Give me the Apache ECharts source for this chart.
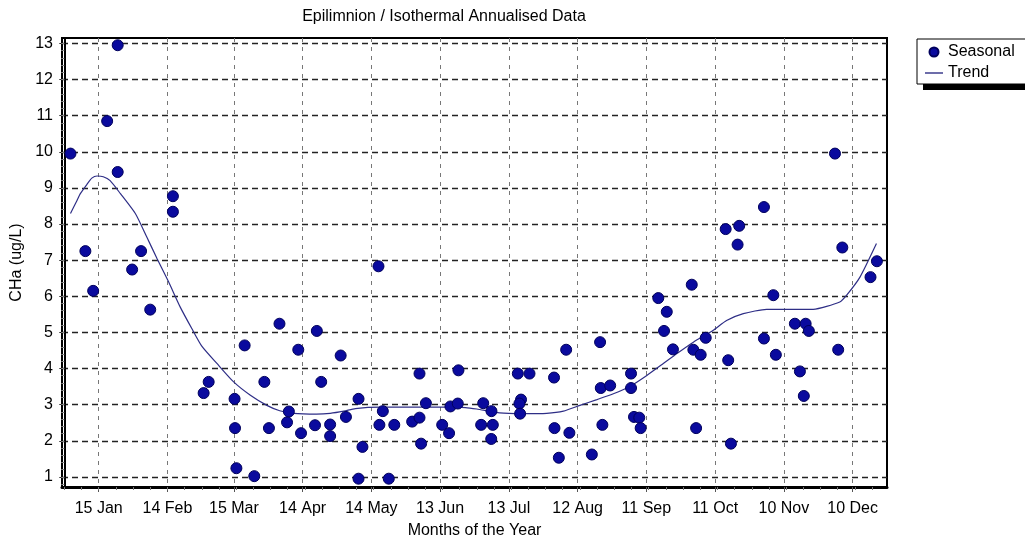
<!DOCTYPE html>
<html>
<head>
<meta charset="utf-8">
<title>Epilimnion / Isothermal Annualised Data</title>
<script src="https://cdn.jsdelivr.net/npm/echarts@6.0.0/dist/echarts.min.js"></script>
<style>
  html, body { margin: 0; padding: 0; background: #ffffff; }
  #chart { width: 1025px; height: 540px; }
</style>
</head>
<body>
<div id="chart"></div>
<script>
// Day-of-year positions of the month labels on the time axis
const monthTickDays = [15, 45, 74, 104, 134, 164, 194, 224, 254, 284, 314, 344];
const monthTickLabels = ['15 Jan', '14 Feb', '15 Mar', '14 Apr', '14 May', '13 Jun',
                         '13 Jul', '12 Aug', '11 Sep', '11 Oct', '10 Nov', '10 Dec'];
// Chlorophyll-a axis ticks (ug/L)
const chlaTicks = [1, 2, 3, 4, 5, 6, 7, 8, 9, 10, 11, 12, 13];

// Seasonal samples: [day of year, CHa ug/L]
const seasonalPoints = [
  [2.7, 9.95], [9.2, 7.25], [12.6, 6.15], [18.7, 10.85], [23.3, 12.95], [23.3, 9.44],
  [29.6, 6.74], [33.5, 7.25], [37.5, 5.63], [47.4, 8.77], [47.4, 8.34],
  [60.8, 3.32], [63.0, 3.63], [74.3, 3.16], [74.5, 2.35], [75.1, 1.24], [78.7, 4.64],
  [82.9, 1.02], [87.3, 3.63], [89.3, 2.35], [93.9, 5.24], [98.0, 2.81], [97.2, 2.51],
  [102.1, 4.52], [103.3, 2.21], [109.4, 2.43], [110.2, 5.04], [112.1, 3.63],
  [116.0, 2.45], [116.0, 2.13], [120.6, 4.36], [122.9, 2.66],
  [128.4, 3.16], [128.4, 0.95], [130.1, 1.83], [137.1, 6.83], [137.5, 2.44],
  [139.0, 2.82], [141.6, 0.95], [144.0, 2.44], [151.8, 2.53], [155.0, 2.64],
  [155.0, 3.86], [155.7, 1.92], [157.8, 3.04], [164.9, 2.44], [167.9, 2.21],
  [168.5, 2.95], [171.7, 3.03], [172.0, 3.95], [181.9, 2.44], [182.8, 3.04],
  [186.4, 2.82], [187.0, 2.44], [186.3, 2.05], [197.9, 3.86], [203.0, 3.86],
  [199.3, 3.14], [198.6, 3.03], [198.9, 2.75], [213.7, 3.75], [213.9, 2.35],
  [215.8, 1.53], [219.0, 4.52], [220.4, 2.22], [230.2, 1.62], [233.8, 4.73],
  [234.1, 3.46], [234.8, 2.44], [238.2, 3.53], [247.3, 3.86], [247.3, 3.46],
  [248.6, 2.66], [250.9, 2.64], [251.5, 2.35], [259.2, 5.95], [262.9, 5.57],
  [261.7, 5.04], [265.6, 4.53], [273.8, 6.32], [274.5, 4.52], [275.7, 2.35],
  [277.7, 4.38], [279.9, 4.85], [288.6, 7.86], [289.7, 4.23], [290.9, 1.92],
  [293.8, 7.43], [294.5, 7.95], [305.3, 8.47], [305.3, 4.83], [309.4, 6.03],
  [310.5, 4.38], [318.8, 5.24], [321.0, 3.92], [322.7, 3.24], [323.5, 5.24],
  [324.9, 5.04], [336.3, 9.95], [337.7, 4.52], [339.5, 7.35], [351.8, 6.53],
  [354.6, 6.97]
];

// Smoothed seasonal trend: [day of year, CHa ug/L]
const trendPoints = [
  [2.7, 8.29], [5.6, 8.66], [7.0, 8.84], [9.9, 9.10], [12.0, 9.27], [14.3, 9.33],
  [17.0, 9.31], [20.0, 9.20], [24.5, 8.84], [31.0, 8.29], [36.0, 7.64], [40.5, 7.04],
  [45.5, 6.40], [50.6, 5.70], [55.7, 5.10], [60.0, 4.62], [66.6, 4.14], [73.9, 3.63],
  [81.2, 3.26], [88.4, 2.98], [94.0, 2.83], [100.0, 2.76], [110.0, 2.74], [116.0, 2.76],
  [122.0, 2.82], [127.0, 2.89], [137.6, 2.93], [150.0, 2.93], [165.0, 2.93],
  [175.0, 2.92], [180.0, 2.88], [190.0, 2.77], [200.0, 2.75], [210.5, 2.76],
  [217.8, 2.82], [225.0, 2.98], [232.4, 3.14], [239.6, 3.30], [246.9, 3.51],
  [254.2, 3.81], [261.4, 4.14], [267.2, 4.41], [274.5, 4.73], [283.2, 5.06],
  [289.0, 5.33], [296.3, 5.52], [306.5, 5.64], [326.8, 5.64], [338.4, 5.84],
  [341.4, 6.03], [347.2, 6.53], [354.4, 7.46]
];

const FONT = 'Arial, "Liberation Sans", sans-serif';
const DAY_MIN = -1, DAY_MAX = 359;
const CHA_MIN = 0.72, CHA_MAX = 13.15;

// Minor ticks: quarter-month steps on the time axis, 0.2 steps on the value axis
const dayMinorTicks = [];
for (let d = 0; d <= DAY_MAX; d += 7.5) dayMinorTicks.push(d);
const chaMinorTicks = [];
for (let v = 0.8; v <= 13.01; v += 0.2) chaMinorTicks.push(Math.round(v * 10) / 10);

const chart = echarts.init(document.getElementById('chart'), null, { renderer: 'canvas' });

chart.setOption({
  animation: false,
  backgroundColor: '#ffffff',
  textStyle: { fontFamily: FONT },
  graphic: [{
    type: 'text',
    x: 444, y: 17,
    style: {
      text: 'Epilimnion / Isothermal Annualised Data',
      font: '16px ' + FONT,
      fill: '#000',
      align: 'center',
      verticalAlign: 'middle'
    }
  }, {
    // solid drop shadow under the legend box
    type: 'rect',
    z: 1,
    shape: { x: 923, y: 50, width: 140, height: 40 },
    style: { fill: '#000' }
  }],
  legend: {
    orient: 'vertical',
    left: 917, top: 39,
    z: 5,
    padding: [5, 80, 3, 8],
    itemWidth: 18, itemHeight: 9, itemGap: 5,
    backgroundColor: '#ffffff',
    borderColor: '#000', borderWidth: 1,
    selectedMode: false,
    textStyle: { fontSize: 16, lineHeight: 16, color: '#000', fontFamily: FONT },
    data: [
      { name: 'Seasonal', icon: 'circle' },
      { name: 'Trend', icon: 'path://M0,0 L18,0 L18,1.4 L0,1.4 Z' }
    ]
  },
  grid: {
    left: 62, top: 38, right: 138, bottom: 53,
    outerBoundsMode: 'none',
    containLabel: false,
    show: true, borderColor: '#000', borderWidth: 2, backgroundColor: 'transparent'
  },
  xAxis: [{
    type: 'value', position: 'bottom',
    min: DAY_MIN, max: DAY_MAX,
    name: 'Months of the Year', nameLocation: 'middle', nameGap: 36,
    nameTextStyle: { fontSize: 16, color: '#000', fontFamily: FONT },
    axisLine: { show: true, lineStyle: { color: '#000', width: 3 } },
    axisTick: { show: true, length: 5, customValues: monthTickDays, lineStyle: { color: '#555', width: 1 } },
    axisLabel: {
      customValues: monthTickDays, margin: 14, fontSize: 16, color: '#000', fontFamily: FONT,
      formatter: v => monthTickLabels[monthTickDays.indexOf(v)] || ''
    },
    splitLine: { show: true, lineStyle: { color: '#777', width: 1, type: [4, 5] } }
  }, {
    type: 'value', position: 'bottom',
    min: DAY_MIN, max: DAY_MAX,
    axisLine: { show: false },
    axisTick: { show: true, length: 3, customValues: dayMinorTicks, lineStyle: { color: '#777', width: 1 } },
    axisLabel: { show: false, customValues: dayMinorTicks },
    splitLine: { show: false }
  }],
  yAxis: [{
    type: 'value', position: 'left',
    min: CHA_MIN, max: CHA_MAX,
    name: 'CHa (ug/L)', nameLocation: 'middle', nameGap: 33,
    nameTextStyle: { fontSize: 16, color: '#000', fontFamily: FONT },
    axisLine: { show: true, lineStyle: { color: '#000', width: 2 } },
    axisTick: { show: true, length: 5, customValues: chlaTicks, lineStyle: { color: '#333', width: 1 } },
    axisLabel: { customValues: chlaTicks, margin: 9, fontSize: 16, color: '#000', fontFamily: FONT },
    splitLine: { show: true, lineStyle: { color: '#222', width: 1.3, type: [6, 4] } }
  }, {
    type: 'value', position: 'left',
    min: CHA_MIN, max: CHA_MAX,
    axisLine: { show: false },
    axisTick: { show: true, length: 3, customValues: chaMinorTicks, lineStyle: { color: '#888', width: 1 } },
    axisLabel: { show: false, customValues: chaMinorTicks },
    splitLine: { show: false }
  }],
  series: [{
    name: 'Trend',
    type: 'line',
    xAxisIndex: 0, yAxisIndex: 0,
    data: trendPoints,
    symbol: 'none',
    smooth: 0.2,
    lineStyle: { color: '#2e2e86', width: 1.2 },
    itemStyle: { color: '#2e2e86' },
    z: 2
  }, {
    name: 'Seasonal',
    type: 'scatter',
    xAxisIndex: 0, yAxisIndex: 0,
    data: seasonalPoints,
    symbol: 'circle',
    symbolSize: 11,
    itemStyle: { color: '#0a0a9e', borderColor: '#00005c', borderWidth: 1, opacity: 1 },
    z: 3
  }]
});
</script>
</body>
</html>
